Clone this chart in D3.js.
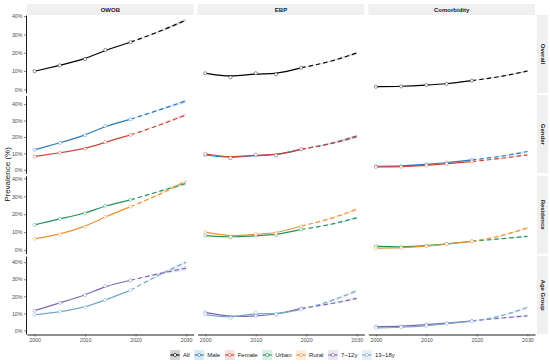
<!DOCTYPE html>
<html>
<head>
<meta charset="utf-8">
<script src="https://cdn.jsdelivr.net/npm/d3@7"></script>
<style>
  body { margin: 0; background: #fff; }
  svg { display: block; font-family: "Liberation Sans", Arial, sans-serif; }
</style>
</head>
<body>
<div id="content"></div>
<script>
// survey years and projection years
var years = [2000, 2005, 2010, 2014, 2019];
var projYears = [2025, 2030];
var outcomes = ["OWOB", "EBP", "Comorbidity"];
var facetRows = ["Overall", "Gender", "Residence", "Age Group"];
var groups = ["All", "Male", "Female", "Urban", "Rural", "7~12y", "13~18y"];
var groupRow = [0, 1, 1, 2, 2, 3, 3];

// observed prevalence (%) per group, order = groups
var owobObs = [
  [9.9, 13.1, 16.5, 21.5, 25.8],
  [12.2, 16.4, 20.9, 26.6, 30.8],
  [8.1, 10.3, 12.8, 16.8, 21.2],
  [14.1, 17.5, 20.5, 24.8, 28.0],
  [6.3, 8.8, 13.0, 18.6, 24.2],
  [11.6, 16.2, 20.6, 26.0, 29.4],
  [9.2, 10.9, 13.6, 17.8, 23.6]
];
var ebpObs = [
  [8.8, 6.6, 8.8, 8.2, 11.8],
  [9.0, 7.0, 9.0, 8.6, 12.4],
  [9.7, 7.3, 9.2, 8.8, 12.6],
  [8.1, 7.1, 8.1, 8.4, 11.5],
  [10.0, 7.4, 9.0, 9.3, 13.4],
  [10.6, 7.8, 8.6, 9.3, 13.0],
  [9.4, 7.2, 10.4, 9.4, 12.3]
];
var comObs = [
  [1.4, 1.6, 2.3, 3.0, 4.8],
  [2.1, 2.2, 3.2, 4.3, 6.0],
  [1.7, 1.8, 2.6, 3.6, 5.0],
  [2.1, 1.6, 2.5, 3.4, 4.9],
  [1.1, 1.2, 2.2, 3.3, 4.9],
  [2.3, 2.3, 3.5, 4.2, 5.6],
  [1.5, 1.8, 2.6, 4.0, 5.4]
];

// projected prevalence at 2025, 2030
var owobProj = [[32.0, 37.9], [36.8, 42.0], [27.6, 33.5], [33.0, 37.2], [31.5, 38.4], [33.5, 36.5], [33.0, 40.0]];
var ebpProj = [[15.5, 19.9], [16.2, 20.6], [16.0, 20.1], [14.5, 18.0], [17.8, 22.8], [15.8, 18.8], [17.5, 23.3]];
var comProj = [[7.2, 10.0], [8.3, 11.1], [7.0, 9.1], [6.4, 7.7], [8.2, 12.4], [7.3, 8.6], [8.8, 13.5]];

// half width of projection interval at 2025, 2030
var owobCI = [[0.5, 0.8], [0.7, 1.2], [0.6, 1.1], [0.5, 1.0], [0.6, 1.1], [0.7, 1.5], [0.8, 1.5]];
var ebpCI = [[0.4, 0.7], [0.5, 0.9], [0.5, 0.9], [0.4, 0.7], [0.5, 1.0], [0.5, 1.0], [0.6, 1.2]];
var comCI = [[0.3, 0.5], [0.4, 0.7], [0.3, 0.6], [0.4, 0.6], [0.5, 0.9], [0.4, 0.7], [0.6, 1.0]];

var colors = ["#000000", "#2a7ab9", "#c9463d", "#23925e", "#ee9232", "#7b68b3", "#77a8c6"];

var obsData = [owobObs, ebpObs, comObs];
var projData = [owobProj, ebpProj, comProj];
var ciData = [owobCI, ebpCI, comCI];

var width = 550, height = 364;
var plotL = 27, plotR = 535, plotT = 15, plotB = 334;
var colGap = 4, rowGap = 2.5;
var panelW = (plotR - plotL - 2 * colGap) / 3;
var panelH = (plotB - plotT - 3 * rowGap) / 4;

var svg = d3.select("#content").append("svg")
    .attr("width", width)
    .attr("height", height);

// build series
var series = [];
outcomes.forEach(function (o, oi) {
    groups.forEach(function (g, gi) {
        var obs = obsData[oi][gi];
        var pts = years.map(function (yr, i) { return { x: yr, y: obs[i] }; });
        var last = obs[obs.length - 1];
        var proj = [{ x: years[years.length - 1], y: last, lo: last, hi: last }];
        projYears.forEach(function (yr, i) {
            var v = projData[oi][gi][i], h = ciData[oi][gi][i];
            proj.push({ x: yr, y: v, lo: v - h, hi: v + h });
        });
        series.push({ col: oi, row: groupRow[gi], gi: gi, pts: pts, proj: proj });
    });
});

var x = d3.scaleLinear().domain([2000 - 1.5, 2030 + 1.5]);

// free y per row, including 0, 5% expansion
var yScales = facetRows.map(function (r, ri) {
    var mx = d3.max(series.filter(function (s) { return s.row == ri; }), function (s) {
        return Math.max(d3.max(s.pts, function (d) { return d.y; }), d3.max(s.proj, function (d) { return d.hi; }));
    });
    var y0 = plotT + ri * (panelH + rowGap);
    return d3.scaleLinear().domain([-0.05 * mx, mx * 1.05]).range([y0 + panelH, y0]);
});

// top strips
outcomes.forEach(function (o, ci) {
    var x0 = plotL + ci * (panelW + colGap);
    svg.append("rect").attr("x", x0).attr("y", 4).attr("width", panelW).attr("height", 11)
        .attr("fill", "#f0f0f0");
    svg.append("text").attr("x", x0 + panelW / 2).attr("y", 9.5)
        .attr("text-anchor", "middle").attr("dominant-baseline", "central")
        .style("font-size", "6px").style("font-weight", "bold").attr("fill", "#1a1a1a")
        .text(o);
});

// right strips
facetRows.forEach(function (r, ri) {
    var y0 = plotT + ri * (panelH + rowGap);
    svg.append("rect").attr("x", 537).attr("y", y0).attr("width", 11).attr("height", panelH)
        .attr("fill", "#f0f0f0");
    svg.append("text")
        .attr("transform", "translate(542.5," + (y0 + panelH / 2) + ") rotate(90)")
        .attr("text-anchor", "middle").attr("dominant-baseline", "central")
        .style("font-size", "6px").style("font-weight", "bold").attr("fill", "#1a1a1a")
        .text(r);
});

var solid = d3.line().x(function (d) { return d.px; }).y(function (d) { return d.py; }).curve(d3.curveBasis);
var dashed = d3.line().x(function (d) { return d.px; }).y(function (d) { return d.py; }).curve(d3.curveMonotoneX);
var band = d3.area().x(function (d) { return d.px; }).y0(function (d) { return d.plo; }).y1(function (d) { return d.phi; })
    .curve(d3.curveMonotoneX);

function styleAxis(a) {
    a.select(".domain").attr("stroke", "#000").attr("stroke-width", 0.9);
    a.selectAll(".tick line").attr("stroke", "#333").attr("stroke-width", 0.6);
    a.selectAll(".tick text").attr("fill", "#4d4d4d").style("font-size", "5.3px")
        .style("font-family", "Liberation Sans, Arial, sans-serif");
}

// panels
for (var ri = 0; ri < 4; ri++) {
    for (var ci = 0; ci < 3; ci++) {
        var x0 = plotL + ci * (panelW + colGap);
        var xs = x.copy().range([x0, x0 + panelW]);
        var ys = yScales[ri];
        var g = svg.append("g");

        var ss = series.filter(function (s) { return s.row == ri && s.col == ci; });
        ss.forEach(function (s) {
            var c = colors[s.gi];
            var pp = s.proj.map(function (d) { return { px: xs(d.x), py: ys(d.y), plo: ys(d.lo), phi: ys(d.hi) }; });
            g.append("path").attr("d", band(pp)).attr("fill", c).attr("fill-opacity", 0.15);
        });
        ss.forEach(function (s) {
            var c = colors[s.gi];
            var op = s.pts.map(function (d) { return { px: xs(d.x), py: ys(d.y) }; });
            var pp = s.proj.map(function (d) { return { px: xs(d.x), py: ys(d.y) }; });
            g.append("path").attr("d", solid(op)).attr("fill", "none")
                .attr("stroke", c).attr("stroke-width", 1.2);
            g.append("path").attr("d", dashed(pp)).attr("fill", "none")
                .attr("stroke", c).attr("stroke-width", 1.2).attr("stroke-dasharray", "4.5,3");
            g.selectAll(null).data(op).enter().append("circle")
                .attr("cx", function (d) { return d.px; })
                .attr("cy", function (d) { return d.py; })
                .attr("r", 1.6)
                .attr("fill", "#fff")
                .attr("stroke", c).attr("stroke-opacity", 0.7).attr("stroke-width", 0.6);
        });

        if (ci == 0) {
            var ax = svg.append("g").attr("transform", "translate(" + (x0 - 1) + ",0)")
                .call(d3.axisLeft(ys).tickValues([0, 10, 20, 30, 40]).tickSizeInner(2).tickSizeOuter(0).tickPadding(1.5)
                    .tickFormat(function (d) { return d + "%"; }));
            styleAxis(ax);
        }
        if (ri == 3) {
            var bx = svg.append("g").attr("transform", "translate(0," + (ys.range()[0] + 0.5) + ")")
                .call(d3.axisBottom(xs).tickValues([2000, 2010, 2020, 2030]).tickSizeInner(2).tickSizeOuter(0).tickPadding(1.5)
                    .tickFormat(d3.format("d")));
            styleAxis(bx);
        }
    }
}

// y title
svg.append("text")
    .attr("transform", "translate(7," + ((plotT + plotB) / 2) + ") rotate(-90)")
    .attr("text-anchor", "middle").attr("dominant-baseline", "central")
    .style("font-size", "8px").attr("fill", "#1a1a1a")
    .text("Prevalence (%)");

// legend
var legend = svg.append("g").attr("transform", "translate(0,355)");
var lx = 170;
groups.forEach(function (gname, gi) {
    var c = colors[gi];
    var item = legend.append("g").attr("transform", "translate(" + lx + ",0)");
    item.append("rect").attr("x", 0).attr("y", -5).attr("width", 10).attr("height", 10)
        .attr("fill", c).attr("fill-opacity", 0.17);
    item.append("line").attr("x1", 0.5).attr("x2", 9.5).attr("y1", 0).attr("y2", 0)
        .attr("stroke", c).attr("stroke-width", 1.2);
    item.append("circle").attr("cx", 5).attr("cy", 0).attr("r", 1.6)
        .attr("fill", "#fff").attr("stroke", c).attr("stroke-width", 0.6);
    var t = item.append("text").attr("x", 13).attr("y", 0).attr("dominant-baseline", "central")
        .style("font-size", "6px").attr("fill", "#1a1a1a").text(gname);
    lx += 13 + t.node().getComputedTextLength() + 4.5;
});
</script>
</body>
</html>
